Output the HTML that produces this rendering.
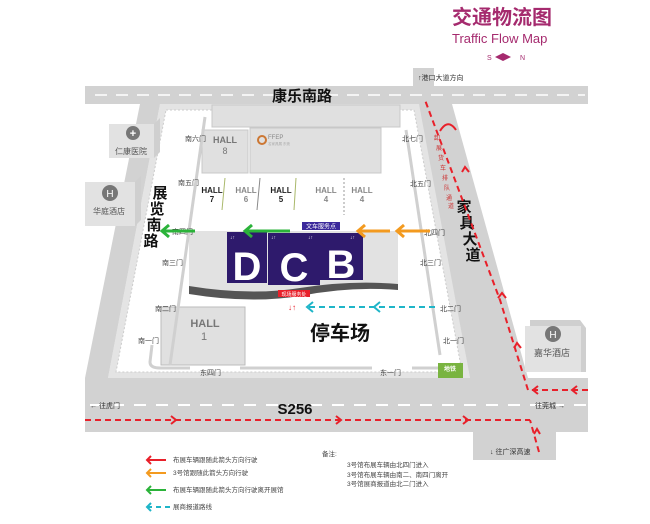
<!DOCTYPE html>
<html><head><meta charset="utf-8"><style>
html,body{margin:0;padding:0;background:#fff;}
svg{display:block;font-family:"Liberation Sans","Noto Sans CJK SC",sans-serif;}
</style></head><body>
<svg width="650" height="524" viewBox="0 0 650 524" xmlns="http://www.w3.org/2000/svg">
<defs>
<marker id="ar" markerWidth="6" markerHeight="6" refX="3" refY="3" orient="auto"><path d="M0,0 L4,3 L0,6" fill="none" stroke="#e8202a" stroke-width="1.5"/></marker>
</defs>
<!-- title -->
<text x="452" y="24" font-size="20" font-weight="bold" fill="#a52a6e">交通物流图</text>
<text x="452" y="43" font-size="13" fill="#a52a6e">Traffic Flow Map</text>
<text x="487" y="60" font-size="7" fill="#a52a6e">S</text>
<path d="M495,57 L503,53 L511,57 L503,61 Z" fill="#a52a6e"/>
<text x="520" y="60" font-size="7" fill="#a52a6e">N</text>

<!-- venue ground -->
<polygon points="160,104 420,104 470,378 108,378" fill="#e4e4e4"/>
<polygon points="166,110 414,110 462,372 116,372" fill="#fff" stroke="#ccc" stroke-dasharray="2,2"/>

<!-- roads -->
<rect x="85" y="86" width="503" height="18" fill="#d2d2d2"/>
<rect x="413" y="68" width="21" height="20" fill="#d2d2d2"/>
<line x1="95" y1="95" x2="585" y2="95" stroke="#fff" stroke-width="1.5" stroke-dasharray="12,9"/>
<polygon points="140,104 160,104 108,378 85,378" fill="#d2d2d2"/>
<polygon points="419,104 452,104 528,378 470,378" fill="#d2d2d2"/>
<rect x="85" y="378" width="503" height="54" fill="#d2d2d2"/>
<rect x="473" y="430" width="83" height="30" fill="#d2d2d2"/>
<line x1="90" y1="405" x2="588" y2="405" stroke="#fff" stroke-width="2" stroke-dasharray="12,10"/>
<text x="418" y="80" font-size="7" fill="#333">↑港口大道方向</text>

<!-- side buildings -->
<polygon points="109,124 154,124 160,118 160,152 154,158 109,158" fill="#cfcfcf"/>
<rect x="109" y="124" width="45" height="34" fill="#e2e2e2"/>
<circle cx="133" cy="133" r="7" fill="#777"/><text x="133" y="137" font-size="11" fill="#fff" text-anchor="middle" font-weight="bold">+</text>
<text x="131" y="154" font-size="8" fill="#555" text-anchor="middle">仁康医院</text>
<polygon points="85,182 135,182 141,176 141,220 135,226 85,226" fill="#cfcfcf"/>
<rect x="85" y="182" width="50" height="44" fill="#e2e2e2"/>
<circle cx="110" cy="193" r="8" fill="#777"/><text x="110" y="197" font-size="10" fill="#fff" text-anchor="middle">H</text>
<text x="109" y="214" font-size="8" fill="#555" text-anchor="middle">华庭酒店</text>
<polygon points="530,320 580,320 586,328 586,372 530,372" fill="#cfcfcf"/>
<rect x="525" y="326" width="56" height="46" fill="#e2e2e2"/>
<circle cx="553" cy="334" r="8" fill="#777"/><text x="553" y="338" font-size="10" fill="#fff" text-anchor="middle">H</text>
<text x="552" y="356" font-size="9" fill="#555" text-anchor="middle">嘉华酒店</text>

<!-- halls -->
<rect x="212" y="105" width="188" height="22" fill="#e0e0e0" stroke="#c8c8c8"/>
<rect x="202" y="130" width="46" height="43" fill="#e0e0e0" stroke="#c8c8c8"/>
<text x="225" y="143" font-size="9" fill="#777" text-anchor="middle" font-weight="bold">HALL</text>
<text x="225" y="154" font-size="9" fill="#777" text-anchor="middle">8</text>
<rect x="250" y="128" width="131" height="45" fill="#e0e0e0" stroke="#c8c8c8"/>
<circle cx="262" cy="140" r="4" fill="none" stroke="#c73" stroke-width="2"/>
<text x="268" y="139" font-size="6" fill="#888">FFEP</text>
<text x="268" y="145" font-size="3.5" fill="#aaa">名家具展 东莞</text>
<line x1="225" y1="178" x2="222" y2="210" stroke="#a9b86a"/>
<line x1="260" y1="178" x2="257" y2="210" stroke="#888"/>
<line x1="296" y1="178" x2="294" y2="210" stroke="#a9b86a"/>
<line x1="344" y1="178" x2="344" y2="215" stroke="#999" stroke-dasharray="2,2"/>
<g font-size="8" font-weight="bold" text-anchor="middle">
<text x="212" y="193" fill="#222">HALL</text><text x="212" y="202" fill="#222">7</text>
<text x="246" y="193" fill="#888">HALL</text><text x="246" y="202" fill="#888">6</text>
<text x="281" y="193" fill="#222">HALL</text><text x="281" y="202" fill="#222">5</text>
<text x="326" y="193" fill="#888">HALL</text><text x="326" y="202" fill="#888">4</text>
<text x="362" y="193" fill="#888">HALL</text><text x="362" y="202" fill="#888">4</text>
</g>

<!-- main DCB building -->
<path d="M189,231 L398,231 L398,288 Q350,282 300,292 Q250,300 189,290 Z" fill="#e2e2e2"/>
<path d="M189,286 Q250,296 300,288 Q350,280 398,284 L398,290 Q350,286 300,296 Q250,304 189,294 Z" fill="#555"/>
<rect x="227" y="232" width="40" height="51" fill="#2e1a6c"/>
<rect x="268" y="233" width="52" height="52" fill="#2e1a6c"/>
<rect x="320" y="233" width="43" height="47" fill="#2e1a6c"/>
<g fill="#fff" font-size="40" font-weight="bold" text-anchor="middle">
<text x="247" y="280">D</text><text x="294" y="281">C</text><text x="341" y="278">B</text>
</g>
<g fill="#fff" font-size="5"><text x="230" y="239">↓↑</text><text x="271" y="239">↓↑</text><text x="308" y="239">↓↑</text><text x="350" y="239">↓↑</text></g>
<rect x="302" y="222" width="38" height="8" fill="#3c2a9c"/>
<text x="321" y="228.5" font-size="6" fill="#fff" text-anchor="middle">文车服务点</text>
<rect x="278" y="290" width="32" height="7" fill="#e8202a"/>
<text x="294" y="296" font-size="5" fill="#fff" text-anchor="middle">现场服务处</text>

<!-- hall 1 -->
<rect x="161" y="307" width="84" height="58" fill="#e0e0e0" stroke="#bbb"/>
<text x="205" y="327" font-size="11" fill="#777" text-anchor="middle" font-weight="bold">HALL</text>
<text x="204" y="340" font-size="11" fill="#777" text-anchor="middle">1</text>
<text x="340" y="340" font-size="20" font-weight="bold" fill="#111" text-anchor="middle">停车场</text>
<rect x="438" y="363" width="25" height="15" fill="#79b440"/>
<text x="450" y="371" font-size="6" fill="#fff" text-anchor="middle" font-weight="bold">地铁</text>

<!-- inner side walls -->
<g stroke="#d0d0d0" stroke-width="3" fill="none">
<line x1="205" y1="117" x2="170" y2="365"/>
<line x1="406" y1="130" x2="440" y2="355"/>
<path d="M152,345 L150,362 Q150,368 160,368 L190,368"/>
<line x1="240" y1="368" x2="372" y2="368"/>
<line x1="412" y1="368" x2="438" y2="368"/>
</g>

<!-- gates -->
<g font-size="7" fill="#444">
<text x="185" y="141">南六门</text><text x="178" y="185">南五门</text><text x="172" y="234">南四门</text>
<text x="162" y="265">南三门</text><text x="155" y="311">南二门</text><text x="138" y="343">南一门</text>
<text x="200" y="375">东四门</text><text x="380" y="375">东一门</text>
<text x="402" y="141">北七门</text><text x="410" y="186">北五门</text><text x="424" y="235">北四门</text>
<text x="420" y="265">北三门</text><text x="440" y="311">北二门</text><text x="443" y="343">北一门</text>
</g>

<!-- road names -->
<text x="302" y="101" font-size="15" font-weight="bold" fill="#111" text-anchor="middle">康乐南路</text>
<g font-size="15" font-weight="bold" fill="#111" text-anchor="middle">
<text x="160" y="198">展</text><text x="157" y="214">览</text><text x="154" y="230">南</text><text x="151" y="246">路</text>
<text x="464" y="212">家</text><text x="467" y="228">具</text><text x="470" y="244">大</text><text x="473" y="260">道</text>
<text x="295" y="414" font-size="15">S256</text>
</g>
<g font-size="7" fill="#333">
<text x="90" y="408">← 往虎门</text><text x="535" y="408">往莞城 →</text><text x="490" y="454">↓ 往广深高速</text>
</g>
<g font-size="6" fill="#c33"><text x="434" y="140">卸</text><text x="436" y="150">展</text><text x="438" y="160">货</text><text x="440" y="170">车</text><text x="442" y="180">排</text><text x="444" y="190">队</text><text x="446" y="200">通</text><text x="448" y="208">道</text></g>

<!-- red routes -->
<g stroke="#e8202a" stroke-width="2" fill="none" stroke-dasharray="6,4">
<polyline points="85,420 530,420"/>
<polyline points="588,390 528,390 500,300 425,100"/>
<polyline points="539,452 530,420"/>
</g>
<path d="M440,131 Q448,118 456,130" stroke="#e8202a" stroke-width="2" fill="none"/>
<g stroke="#e8202a" stroke-width="2" fill="none">
<path d="M171,416 L176,420 L171,424"/><path d="M336,416 L341,420 L336,424"/><path d="M463,416 L468,420 L463,424"/>
<path d="M538,386 L533,390 L538,394"/><path d="M577,386 L572,390 L577,394"/>
<path d="M462,172 L465,167 L469,172"/><path d="M498,298 L502,293 L506,298"/><path d="M514,348 L517,343 L521,348"/>
<path d="M534,434 L537,429 L540,434"/>
</g>

<!-- green / orange / cyan arrows -->
<g stroke="#2bb33a" stroke-width="3" fill="none">
<line x1="290" y1="231" x2="245" y2="231"/><path d="M252,225 L245,231 L252,237"/>
<line x1="195" y1="231" x2="162" y2="231"/><path d="M169,225 L162,231 L169,237"/>
</g>
<g stroke="#f39a1f" stroke-width="3" fill="none">
<line x1="390" y1="231" x2="358" y2="231"/><path d="M365,225 L358,231 L365,237"/>
<line x1="430" y1="231" x2="397" y2="231"/><path d="M404,225 L397,231 L404,237"/>
</g>
<g stroke="#1fb5c8" stroke-width="2" fill="none">
<line x1="435" y1="307" x2="308" y2="307" stroke-dasharray="6,4"/>
<path d="M313,302 L307,307 L313,312"/><path d="M380,302 L374,307 L380,312"/>
</g>
<text x="288" y="310" font-size="8" fill="#e8202a">↓↑</text>

<!-- legend -->
<g stroke-width="2" fill="none">
<line x1="147" y1="460" x2="166" y2="460" stroke="#e8202a"/><path d="M151,456 L147,460 L151,464" stroke="#e8202a"/>
<line x1="147" y1="473" x2="166" y2="473" stroke="#f39a1f"/><path d="M151,469 L147,473 L151,477" stroke="#f39a1f"/>
<line x1="147" y1="490" x2="166" y2="490" stroke="#2bb33a"/><path d="M151,486 L147,490 L151,494" stroke="#2bb33a"/>
<line x1="147" y1="507" x2="172" y2="507" stroke="#1fb5c8" stroke-dasharray="5,4"/><path d="M151,503 L147,507 L151,511" stroke="#1fb5c8"/>
</g>
<g font-size="6.5" fill="#444">
<text x="173" y="462">布展车辆跟随此箭头方向行驶</text>
<text x="173" y="475">3号馆跟随此箭头方向行驶</text>
<text x="173" y="492">布展车辆跟随此箭头方向行驶离开展馆</text>
<text x="173" y="509">展商报道路线</text>
<text x="322" y="456">备注:</text>
<text x="347" y="467">3号馆布展车辆由北四门进入</text>
<text x="347" y="477">3号馆布展车辆由南二、南四门离开</text>
<text x="347" y="486">3号馆展商报道由北二门进入</text>
</g>
</svg>
</body></html>
